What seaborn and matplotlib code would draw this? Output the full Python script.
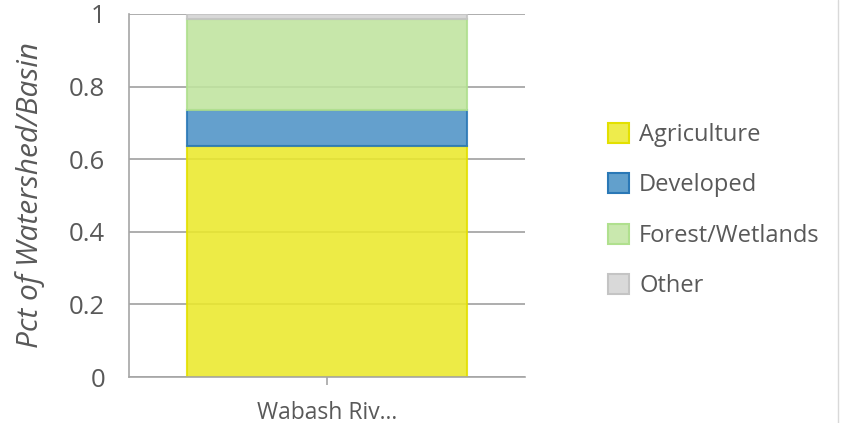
import matplotlib
matplotlib.use("Agg")
import matplotlib.pyplot as plt
import matplotlib.patches as mpatches
from matplotlib.lines import Line2D
import pandas as pd
import seaborn as sns

# data
watersheds = ["Wabash Riv..."]
categories = ["Agriculture", "Developed", "Forest/Wetlands", "Other"]
agriculture = [0.635]
developed = [0.10]
forest = [0.25]
other = [0.015]

fills = ["#ebe92c", "#4e93c6", "#c0e49f", "#d3d3d3"]
edges = ["#e3e000", "#2a78b6", "#b0e08e", "#c4c4c4"]
legend_fills = ["#eeec4c", "#62a0cc", "#c9e8ae", "#d9d9d9"]

TXT = "#595959"

sns.set_theme(style="white")
plt.rcParams["font.family"] = ["Open Sans", "DejaVu Sans"]

fig = plt.figure(figsize=(8.42, 4.23), dpi=100)
ax = fig.add_axes([0.153, 0.1087, 0.4705, 0.8583])

df = pd.DataFrame({"watershed": watersheds * 4,
                   "category": [c for c in categories for _ in watersheds],
                   "value": agriculture + developed + forest + other})

bottom = [0.0] * len(watersheds)
for i, cat in enumerate(categories):
    sub = df[df["category"] == cat]
    sns.barplot(data=sub, x="watershed", y="value", ax=ax, bottom=bottom,
                color=fills[i], edgecolor=edges[i], linewidth=1.5,
                width=0.705, alpha=0.88, saturation=1, errorbar=None,
                zorder=2)
    bottom = [b + v for b, v in zip(bottom, sub["value"].tolist())]

ax.set_ylim(0, 1)
ax.set_xlim(-0.5, 0.5)
ax.set_yticks([0, 0.2, 0.4, 0.6, 0.8, 1])
ax.set_yticklabels(["0", "0.2", "0.4", "0.6", "0.8", "1"])
ax.yaxis.grid(True, color="#9f9f9f", linewidth=1.2, zorder=1)
ax.set_axisbelow(True)

for s in ["top", "right"]:
    ax.spines[s].set_visible(False)
for s in ["left", "bottom"]:
    ax.spines[s].set_color("#a6a6a6")
    ax.spines[s].set_linewidth(1.2)

ax.tick_params(axis="y", length=0, pad=17, labelsize=18.5, labelcolor=TXT)
ax.tick_params(axis="x", length=6, width=1.2, color="#a6a6a6", bottom=True,
               pad=11, labelsize=16.5, labelcolor=TXT)
ax.set_xlabel("")
ax.set_ylabel("Pct of Watershed/Basin", fontsize=21.5, color=TXT,
              style="italic", labelpad=17)

handles = [mpatches.Patch(facecolor=legend_fills[i], edgecolor=edges[i],
                          linewidth=1.5, label=categories[i])
           for i in range(len(categories))]
fig.legend(handles=handles, loc="center left",
           bbox_to_anchor=(0.708, 0.502), frameon=False, fontsize=17,
           labelcolor=TXT, handlelength=0.9, handleheight=0.9,
           handletextpad=0.42, labelspacing=1.12, borderpad=0)

fig.add_artist(Line2D([0.9955, 0.9955], [0, 1], transform=fig.transFigure,
                      color="#d9d9d9", linewidth=1))

fig.savefig("out.png", dpi=100)
